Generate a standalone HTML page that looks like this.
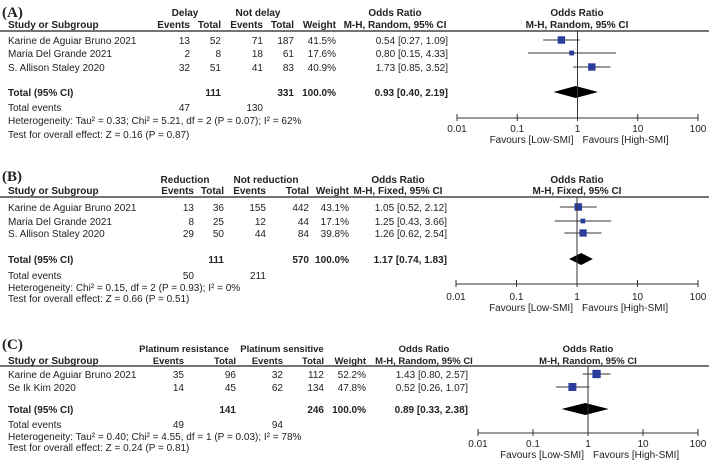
<!DOCTYPE html>
<html><head><meta charset="utf-8"><style>
html,body{margin:0;padding:0;background:#fff;}
svg{display:block;font-family:"Liberation Sans",Arial,sans-serif;}
</style></head>
<body>
<svg id="chart" width="709" height="460" viewBox="0 0 709 460"></svg>
<script>
// ---------- Panel A data ----------
const aStudies=["Karine de Aguiar Bruno 2021","Maria Del Grande 2021","S. Allison Staley 2020"];
const aEv1=[13,2,32], aTot1=[52,8,51], aEv2=[71,18,41], aTot2=[187,61,83];
const aWeight=[41.5,17.6,40.9];
const aOR=[0.54,0.80,1.73], aLo=[0.27,0.15,0.85], aHi=[1.09,4.33,3.52];
const aTotal=[0.93,0.40,2.19];
const aSum=[111,331,47,130];
// ---------- Panel B data ----------
const bStudies=["Karine de Aguiar Bruno 2021","Maria Del Grande 2021","S. Allison Staley 2020"];
const bEv1=[13,8,29], bTot1=[36,25,50], bEv2=[155,12,44], bTot2=[442,44,84];
const bWeight=[43.1,17.1,39.8];
const bOR=[1.05,1.25,1.26], bLo=[0.52,0.43,0.62], bHi=[2.12,3.66,2.54];
const bTotal=[1.17,0.74,1.83];
const bSum=[111,570,50,211];
// ---------- Panel C data ----------
const cStudies=["Karine de Aguiar Bruno 2021","Se Ik Kim 2020"];
const cEv1=[35,14], cTot1=[96,45], cEv2=[32,62], cTot2=[112,134];
const cWeight=[52.2,47.8];
const cOR=[1.43,0.52], cLo=[0.80,0.26], cHi=[2.57,1.07];
const cTotal=[0.89,0.33,2.38];
const cSum=[141,246,49,94];
const tickVals=[0.01,0.1,1,10,100];
const tickLabels=["0.01","0.1","1","10","100"];

const svg=document.getElementById('chart');
const NS="http://www.w3.org/2000/svg";
function txt(x,y,s,name,opt){
  opt=opt||{};
  const t=document.createElementNS(NS,'text');
  t.setAttribute('x',x);t.setAttribute('y',y);
  t.setAttribute('font-size',opt.size||10);
  if(opt.bold)t.setAttribute('font-weight','bold');
  if(opt.anchor)t.setAttribute('text-anchor',opt.anchor);
  if(opt.family)t.setAttribute('font-family',opt.family);
  t.setAttribute('fill','#222');
  t.textContent=s;
  
  
  svg.appendChild(t);return t;
}
function ln(x1,y1,x2,y2,name,w,c){
  const l=document.createElementNS(NS,'line');
  l.setAttribute('x1',x1);l.setAttribute('y1',y1);l.setAttribute('x2',x2);l.setAttribute('y2',y2);
  l.setAttribute('stroke',c||'#333');l.setAttribute('stroke-width',w||1);
  
  
  svg.appendChild(l);return l;
}
function fmt(v){return v.toFixed(2);}

function panel(P){
  const xs=v=>P.ax0+(Math.log10(v)+2)/4*(P.ax1-P.ax0);
  const hs=P.hsize||10;
  txt(P.titleX,P.titleY,P.title,'panel-title',{size:15,bold:true,family:'"Liberation Serif",serif'});
  txt(P.g1,P.gy,P.grp1,'group1-header',{bold:true,anchor:'middle',size:hs});
  txt(P.g2,P.gy,P.grp2,'group2-header',{bold:true,anchor:'middle',size:hs});
  txt(P.orC,P.gy,'Odds Ratio','or-header',{bold:true,anchor:'middle',size:hs});
  txt(P.plotC,P.gy,'Odds Ratio','plot-or-header',{bold:true,anchor:'middle',size:hs});
  const hy=P.hy;
  txt(8,hy,'Study or Subgroup','study-header',{bold:true});
  txt(P.c[0],hy,'Events','events1-header',{bold:true,anchor:'end',size:hs});
  txt(P.c[1],hy,'Total','total1-header',{bold:true,anchor:'end',size:hs});
  txt(P.c[2],hy,'Events','events2-header',{bold:true,anchor:'end',size:hs});
  txt(P.c[3],hy,'Total','total2-header',{bold:true,anchor:'end',size:hs});
  txt(P.c[4],hy,'Weight','weight-header',{bold:true,anchor:'end',size:hs});
  txt(P.orC,hy,P.method,'method-header',{bold:true,anchor:'middle',size:hs});
  txt(P.plotC,hy,P.method,'plot-method-header',{bold:true,anchor:'middle',size:hs});
  ln(0,P.lineY,709,P.lineY,'header-rule',1.2,'#222');
  P.studies.forEach((s,i)=>{
    const y=P.rows[i];
    txt(8,y,s,'study-name',{});
    txt(P.c[0],y,P.ev1[i],'events1',{anchor:'end'});
    txt(P.c[1],y,P.tot1[i],'total1',{anchor:'end'});
    txt(P.c[2],y,P.ev2[i],'events2',{anchor:'end'});
    txt(P.c[3],y,P.tot2[i],'total2',{anchor:'end'});
    txt(P.c[4],y,P.w[i].toFixed(1)+'%','weight',{anchor:'end'});
    txt(P.c[5],y,fmt(P.or[i])+' ['+fmt(P.lo[i])+', '+fmt(P.hi[i])+']','or-ci-text',{anchor:'end'});
    const cy=y-4;
    ln(xs(P.lo[i]),cy,xs(P.hi[i]),cy,'ci-line',1,'#333');
    const sz=Math.sqrt(P.w[i])*1.15;
    const r=document.createElementNS(NS,'rect');
    r.setAttribute('x',xs(P.or[i])-sz/2);r.setAttribute('y',cy-sz/2);
    r.setAttribute('width',sz);r.setAttribute('height',sz);r.setAttribute('fill','#2a3d9a');
    
    
    svg.appendChild(r);
  });
  const ty=P.totY;
  txt(8,ty,'Total (95% CI)','total-label',{bold:true});
  txt(P.c[1],ty,P.sum[0],'total1-sum',{bold:true,anchor:'end'});
  txt(P.c[3],ty,P.sum[1],'total2-sum',{bold:true,anchor:'end'});
  txt(P.c[4],ty,'100.0%','total-weight',{bold:true,anchor:'end'});
  txt(P.c[5],ty,fmt(P.tot[0])+' ['+fmt(P.tot[1])+', '+fmt(P.tot[2])+']','total-or-text',{bold:true,anchor:'end'});
  const dy=ty-4;
  const d=document.createElementNS(NS,'polygon');
  d.setAttribute('points',`${xs(P.tot[1])},${dy} ${xs(P.tot[0])},${dy-6} ${xs(P.tot[2])},${dy} ${xs(P.tot[0])},${dy+6}`);
  d.setAttribute('fill','#000');
  
  
  svg.appendChild(d);
  txt(8,P.teY,'Total events','total-events-label',{});
  txt(P.c[0],P.teY,P.sum[2],'total-events1',{anchor:'end'});
  txt(P.c[2],P.teY,P.sum[3],'total-events2',{anchor:'end'});
  txt(8,P.hetY,P.het,'heterogeneity-text',{});
  txt(8,P.testY,P.test,'overall-effect-text',{});
  ln(xs(1),P.lineY,xs(1),P.axY,'null-line',1,'#333');
  ln(P.ax0,P.axY,P.ax1,P.axY,'x-axis',1,'#333');
  tickVals.forEach((v,i)=>{
    ln(xs(v),P.axY-4,xs(v),P.axY+3,'x-tick',1,'#333');
    txt(xs(v),P.tickY,tickLabels[i],'x-tick-label',{anchor:'middle'});
  });
  txt(xs(1)-4,P.favY,'Favours [Low-SMI]','favours-low-label',{anchor:'end'});
  txt(xs(1)+5,P.favY,'Favours [High-SMI]','favours-high-label',{anchor:'start'});
}

panel({title:'(A)',titleX:2,titleY:17,grp1:'Delay',grp2:'Not delay',g1:185,g2:258,gy:16,hy:28,lineY:31,
  orC:395,plotC:577,method:'M-H, Random, 95% CI',c:[190,221,263,294,336,448],
  studies:aStudies,ev1:aEv1,tot1:aTot1,ev2:aEv2,tot2:aTot2,w:aWeight,or:aOR,lo:aLo,hi:aHi,
  rows:[44,57,71],totY:96,tot:aTotal,sum:aSum,teY:111,hetY:124,testY:138,
  het:'Heterogeneity: Tau² = 0.33; Chi² = 5.21, df = 2 (P = 0.07); I² = 62%',
  test:'Test for overall effect: Z = 0.16 (P = 0.87)',ax0:457,ax1:698,axY:118,tickY:132,favY:143});
panel({title:'(B)',titleX:2,titleY:181,grp1:'Reduction',grp2:'Not reduction',g1:185,g2:266,gy:183,hy:194,lineY:197,
  orC:398,plotC:577,method:'M-H, Fixed, 95% CI',c:[194,224,266,309,349,447],
  studies:bStudies,ev1:bEv1,tot1:bTot1,ev2:bEv2,tot2:bTot2,w:bWeight,or:bOR,lo:bLo,hi:bHi,
  rows:[211,225,237],totY:263,tot:bTotal,sum:bSum,teY:279,hetY:291,testY:302,
  het:'Heterogeneity: Chi² = 0.15, df = 2 (P = 0.93); I² = 0%',
  test:'Test for overall effect: Z = 0.66 (P = 0.51)',ax0:456,ax1:698,axY:284,tickY:300,favY:311});
panel({title:'(C)',titleX:2,titleY:349,grp1:'Platinum resistance',grp2:'Platinum sensitive',g1:184,g2:282,gy:352,hy:364,lineY:366,
  orC:424,plotC:588,hsize:9.5,method:'M-H, Random, 95% CI',c:[184,236,283,324,366,468],
  studies:cStudies,ev1:cEv1,tot1:cTot1,ev2:cEv2,tot2:cTot2,w:cWeight,or:cOR,lo:cLo,hi:cHi,
  rows:[378,391],totY:413,tot:cTotal,sum:cSum,teY:428,hetY:440,testY:451,
  het:'Heterogeneity: Tau² = 0.40; Chi² = 4.55, df = 1 (P = 0.03); I² = 78%',
  test:'Test for overall effect: Z = 0.24 (P = 0.81)',ax0:478,ax1:698,axY:433,tickY:447,favY:458});
</script>
</body></html>
